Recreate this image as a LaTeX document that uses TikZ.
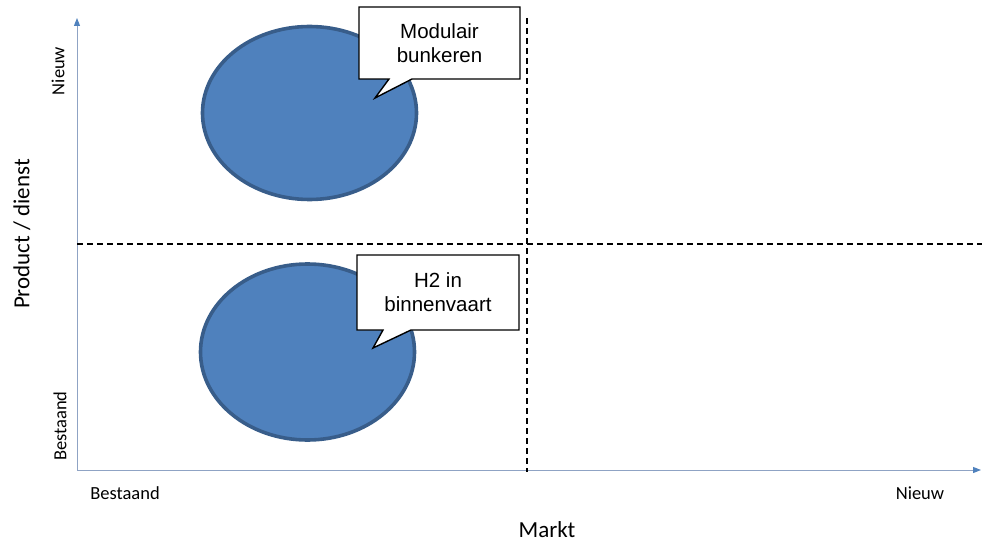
\documentclass[tikz,border=0pt]{standalone}
\usepackage{fontspec}
\setmainfont{Carlito}
\newfontfamily\arialf{Liberation Sans}
\usetikzlibrary{arrows.meta}
\definecolor{axisline}{HTML}{8FA3C4}
\definecolor{axishead}{HTML}{4F81BD}
\definecolor{blobfill}{HTML}{4F81BD}
\definecolor{blobedge}{HTML}{385D8A}
\tikzset{
  axis/.style={draw=axisline, line width=1pt, -{Triangle[length=8pt,width=6pt,color=axishead,fill=axishead]}},
  divider/.style={draw=black, line width=1.7pt, dash pattern=on 6pt off 4pt},
  blob/.style={fill=blobfill, draw=blobedge, line width=3.6pt},
  callouttext/.style={font=\arialf\fontsize{20.5}{23.5}\selectfont, align=center, inner sep=0pt},
  calloutline/.style={draw=black, fill=white, line width=1.4pt, line join=miter},
  lbl/.style={font=\fontsize{18.5}{20}\selectfont, inner sep=0pt},
  biglbl/.style={font=\fontsize{23}{25}\selectfont, inner sep=0pt}
}
\begin{document}
\begin{tikzpicture}[x=1pt,y=1pt]
\useasboundingbox (0,0) rectangle (982,542);
% axes
\coordinate (O) at (77,72);
\coordinate (ytop) at (77,524);
\coordinate (xend) at (981,72);
\draw[axis] (O) -- (ytop);
\draw[axis] (O) -- (xend);
% dividers
\coordinate (vtop) at (527,524);
\coordinate (vbot) at (527,70);
\coordinate (hl) at (77,298);
\coordinate (hr) at (982,298);
\draw[divider] (vtop) -- (vbot);
\draw[divider] (hl) -- (hr);
% ellipses
\path[blob] (309.5,429) ellipse [x radius=107, y radius=86.5];
\path[blob] (307.5,190) ellipse [x radius=107, y radius=88];
% callout 1
\coordinate (c1nw) at (359,535);
\coordinate (c1ne) at (520,535);
\coordinate (c1se) at (520,463);
\coordinate (c1sw) at (359,463);
\coordinate (c1bl) at (389,463);
\coordinate (c1br) at (412,463);
\coordinate (c1tip) at (375,444);
\draw[calloutline] (c1sw) -- (c1bl) -- (c1tip) -- (c1br) -- (c1se) -- (c1ne) -- (c1nw) -- cycle;
\node[callouttext] (t1) at (439.5,499) {Modulair\\bunkeren};
% callout 2
\coordinate (c2nw) at (357,287);
\coordinate (c2ne) at (519,287);
\coordinate (c2se) at (519,212);
\coordinate (c2sw) at (357,212);
\coordinate (c2bl) at (383,212);
\coordinate (c2br) at (411,212);
\coordinate (c2tip) at (373,194);
\draw[calloutline] (c2sw) -- (c2bl) -- (c2tip) -- (c2br) -- (c2se) -- (c2ne) -- (c2nw) -- cycle;
\node[callouttext] (t2) at (438,250) {H2 in\\binnenvaart};
% labels
\node[lbl, rotate=90] (ynew) at (58,471) {Nieuw};
\node[lbl, rotate=90] (yold) at (60,116) {Bestaand};
\node[lbl] (xold) at (125,49) {Bestaand};
\node[lbl] (xnew) at (920,49) {Nieuw};
\node[biglbl] (xlab) at (547,12) {Markt};
\node[biglbl, rotate=90] (ylab) at (22,308) {Product / dienst};
\end{tikzpicture}
\end{document}
